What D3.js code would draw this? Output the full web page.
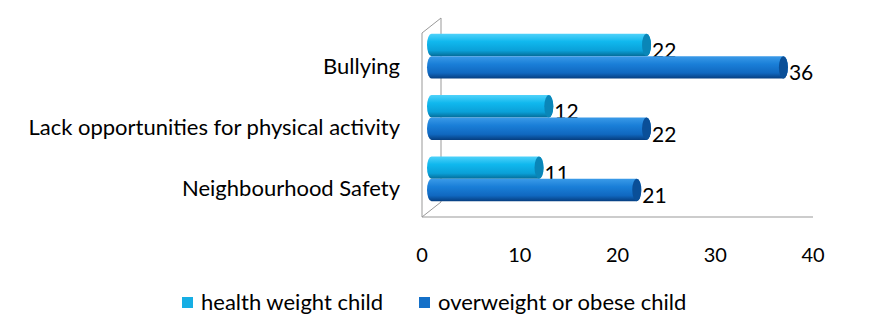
<!DOCTYPE html>
<html>
<head>
<meta charset="utf-8">
<script src="https://cdn.jsdelivr.net/npm/d3@7"></script>
<style>
  body { margin: 0; background: #fff; }
  text { font-family: Lato, "Noto Sans", sans-serif; fill: #000; }
</style>
</head>
<body>
<div id="chart"></div>
<script>
// chart data
var categories = ["Bullying", "Lack opportunities for physical activity", "Neighbourhood Safety"];
var seriesNames = ["health weight child", "overweight or obese child"];
var healthWeight = [22, 12, 11];
var overweight = [36, 22, 21];
var xTicks = [0, 10, 20, 30, 40];

var width = 873, height = 334;
var depthX = 19, depthY = -15;   // 3d depth of the box

var svg = d3.select("#chart").append("svg")
    .attr("width", width)
    .attr("height", height);

var x = d3.scaleLinear().domain([0, 40]).range([422, 813]);
var y = d3.scaleBand().domain(categories).range([33, 217]).paddingInner(0.27).paddingOuter(0.135);
var ySub = d3.scaleBand().domain(seriesNames).range([0, y.bandwidth()]);

// gradients for the cylinders
var defs = svg.append("defs");
var gradStops = [
    [["0", "#4fd2fa"], ["0.35", "#10b8ee"], ["0.75", "#0aa0d8"], ["1", "#046c98"]],
    [["0", "#3a9ae8"], ["0.35", "#1a7fd8"], ["0.75", "#1068c0"], ["1", "#063e80"]]
];
gradStops.forEach(function (stops, i) {
    var g = defs.append("linearGradient").attr("id", "grad" + i)
        .attr("x1", 0).attr("y1", 0).attr("x2", 0).attr("y2", 1);
    stops.forEach(function (s) {
        g.append("stop").attr("offset", s[0]).attr("stop-color", s[1]);
    });
});
var capColors = ["#0a86b8", "#0a4f98"];
var legendColors = ["#16aee4", "#1470c8"];

// box walls
var box = svg.append("g").attr("fill", "none").attr("stroke", "#999").attr("stroke-width", 1);
var x0 = x(0), yTop = 33, yBot = 217;
box.append("path").attr("d", "M" + (x0 + depthX) + "," + (yTop + depthY) + "V" + (yBot + depthY));
box.append("path").attr("d", "M" + x0 + "," + yTop + "V" + yBot + "H" + x(40));
box.append("path").attr("d", "M" + x0 + "," + yTop + "L" + (x0 + depthX) + "," + (yTop + depthY));
box.append("path").attr("d", "M" + x0 + "," + yBot + "L" + (x0 + depthX) + "," + (yBot + depthY));

// x axis labels
svg.append("g").selectAll("text")
    .data(xTicks)
    .enter()
    .append("text")
    .attr("x", function (d) { return x(d); })
    .attr("y", 262)
    .attr("text-anchor", "middle")
    .attr("font-size", "20px")
    .text(function (d) { return d; });

// category labels
svg.append("g").selectAll("text")
    .data(categories)
    .enter()
    .append("text")
    .attr("x", 400)
    .attr("y", function (d) { return y(d) + y.bandwidth() / 2 + 10; })
    .attr("text-anchor", "end")
    .attr("font-size", "22px")
    .text(function (d) { return d; });

// build bar data
var bars = [];
categories.forEach(function (c, i) {
    bars.push({ cat: c, s: 0, v: healthWeight[i] });
    bars.push({ cat: c, s: 1, v: overweight[i] });
});

var offX = depthX / 2, offY = depthY / 2;
var rx = 4.5;

var barG = svg.append("g").selectAll("g")
    .data(bars)
    .enter()
    .append("g");

barG.append("path")
    .attr("fill", function (d) { return "url(#grad" + d.s + ")"; })
    .attr("d", function (d) {
        var bx0 = x(0) + offX, bx1 = x(d.v) + offX;
        var by = y(d.cat) + ySub(seriesNames[d.s]) + offY;
        var h = ySub.bandwidth();
        return "M" + bx0 + "," + by + "L" + bx1 + "," + by +
            "A" + rx + "," + (h / 2) + " 0 0 1 " + bx1 + "," + (by + h) +
            "L" + bx0 + "," + (by + h) +
            "A" + rx + "," + (h / 2) + " 0 0 1 " + bx0 + "," + by + "Z";
    });

barG.append("ellipse")
    .attr("cx", function (d) { return x(d.v) + offX; })
    .attr("cy", function (d) { return y(d.cat) + ySub(seriesNames[d.s]) + offY + ySub.bandwidth() / 2; })
    .attr("rx", rx)
    .attr("ry", ySub.bandwidth() / 2)
    .attr("fill", function (d) { return capColors[d.s]; });

// value labels
barG.append("text")
    .attr("x", function (d) { return x(d.v) + offX + rx + 1; })
    .attr("y", function (d) { return y(d.cat) + ySub(seriesNames[d.s]) + offY + ySub.bandwidth() / 2 + 13; })
    .attr("font-size", "21px")
    .text(function (d) { return d.v; });

// legend
var legend = svg.append("g").selectAll("g")
    .data(seriesNames)
    .enter()
    .append("g")
    .attr("transform", function (d, i) { return "translate(" + (i === 0 ? 182 : 419) + ",297)"; });

legend.append("rect")
    .attr("width", 11).attr("height", 11)
    .attr("fill", function (d, i) { return legendColors[i]; });

legend.append("text")
    .attr("x", 19)
    .attr("y", 13)
    .attr("font-size", "22px")
    .text(function (d) { return d; });
</script>
</body>
</html>
